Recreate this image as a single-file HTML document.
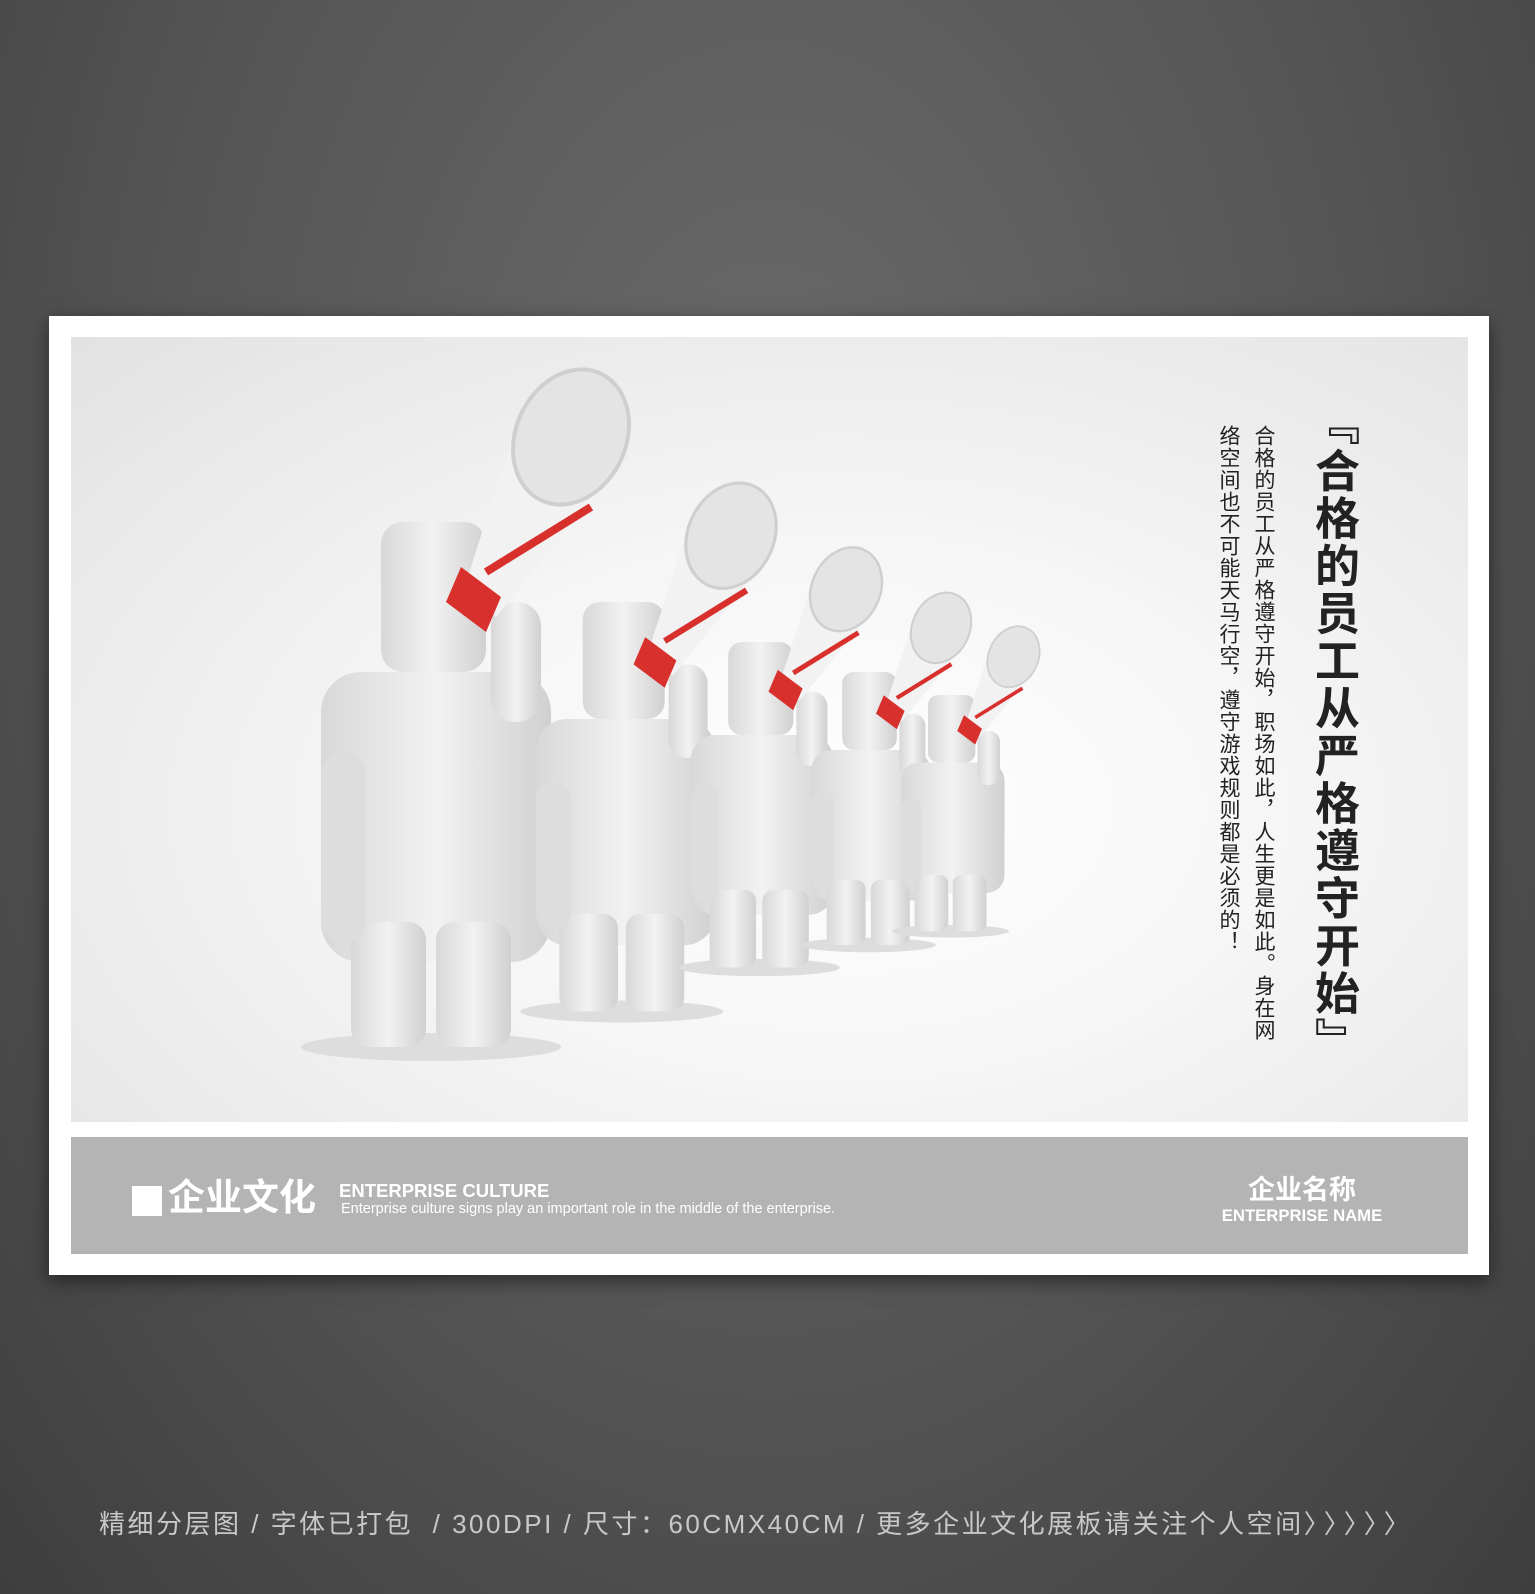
<!DOCTYPE html>
<html><head><meta charset="utf-8"><style>
body{margin:0;width:1535px;height:1594px;overflow:hidden;background:radial-gradient(ellipse at 50% 30%,#6a6a6a 0%,#555 55%,#3e3e3e 100%);font-family:"Liberation Sans","Noto Sans CJK SC",sans-serif;position:relative}
.abs{position:absolute}
#frame{left:49px;top:316px;width:1440px;height:959px;background:#fff;box-shadow:0 6px 18px rgba(0,0,0,.5)}
#photo{left:71px;top:337px;width:1397px;height:785px;background:radial-gradient(ellipse at 55% 60%,#fff 0%,#f6f6f6 40%,#e2e2e2 100%)}
#band{left:71px;top:1137px;width:1397px;height:117px;background:#b4b4b4}
.vcol{writing-mode:vertical-rl;color:#222;white-space:nowrap}
</style></head><body>
<div class="abs" id="frame"></div>
<div class="abs" id="photo">
<svg width="1397" height="785">
<defs><linearGradient id="b" x1="0" x2="1"><stop offset="0" stop-color="#d8d8d8"/><stop offset=".5" stop-color="#f2f2f2"/><stop offset="1" stop-color="#d0d0d0"/></linearGradient></defs>
</svg>
</div>
<script>
const figs=[[250,185,1],[465,265,0.78],[620,305,0.62],[740,335,0.52],[830,358,0.45]];
const svg=document.querySelector('#photo svg');
figs.forEach(([x,y,s])=>{
 const g=document.createElementNS('http://www.w3.org/2000/svg','g');
 
 
 g.setAttribute('transform',`translate(${x},${y}) scale(${s})`);
 g.innerHTML=`<ellipse cx="110" cy="525" rx="130" ry="14" fill="#ddd"/>
 <rect x="60" y="0" width="105" height="150" rx="22" fill="url(#b)"/>
 <rect x="0" y="150" width="230" height="290" rx="40" fill="url(#b)"/>
 <rect x="30" y="400" width="75" height="125" rx="18" fill="url(#b)"/>
 <rect x="115" y="400" width="75" height="125" rx="18" fill="url(#b)"/>
 <rect x="170" y="80" width="50" height="120" rx="24" fill="url(#b)"/>
 <rect x="0" y="230" width="45" height="190" rx="22" fill="#ddd"/>
 <polygon points="145,60 200,-110 300,-60 175,95" fill="#f2f2f2"/>
 <ellipse cx="250" cy="-85" rx="55" ry="70" transform="rotate(25 250 -85)" fill="#e4e4e4" stroke="#cfcfcf" stroke-width="4"/>
 <line x1="165" y1="50" x2="270" y2="-15" stroke="#d8302c" stroke-width="8"/>
 <polygon points="140,45 180,75 165,110 125,80" fill="#d8302c"/>`;
 svg.appendChild(g);
});
</script>
<div class="abs vcol" style="left:1308px;top:400px;font-size:45px;font-weight:bold;letter-spacing:2.5px;line-height:50px">『合格的员工从严格遵守开始』</div>
<div class="abs vcol" style="left:1251px;top:425px;font-size:21px;letter-spacing:1px;line-height:24px">合格的员工从严格遵守开始，职场如此，人生更是如此。身在网</div>
<div class="abs vcol" style="left:1216px;top:425px;font-size:21px;letter-spacing:1px;line-height:24px">络空间也不可能天马行空，遵守游戏规则都是必须的！</div>
<div class="abs" id="band"></div>
<div class="abs" style="left:132px;top:1186px;width:30px;height:30px;background:#fff"></div>
<div class="abs" style="left:168px;top:1174px;font-size:37px;font-weight:bold;color:#fff;line-height:48px">企业文化</div>
<div class="abs" style="left:339px;top:1180px;font-size:18.5px;font-weight:bold;color:#fff">ENTERPRISE CULTURE</div>
<div class="abs" style="left:341px;top:1201px;font-size:14.5px;color:#fff">Enterprise culture signs play an important role in the middle of the enterprise.</div>
<div class="abs" style="left:1202px;top:1168px;width:200px;text-align:center;font-size:27px;font-weight:bold;color:#fff">企业名称</div>
<div class="abs" style="left:1202px;top:1206px;width:200px;text-align:center;font-size:16.7px;font-weight:bold;color:#fff">ENTERPRISE NAME</div>
<div class="abs" style="left:99px;top:1504px;font-size:26px;letter-spacing:2.5px;color:#c8c8c8;white-space:nowrap">精细分层图 / 字体已打包 &nbsp;/ 300DPI / 尺寸：60CMX40CM / 更多企业文化展板请关注个人空间<span style="letter-spacing:7px">〉〉〉〉〉</span></div>
</body></html>
